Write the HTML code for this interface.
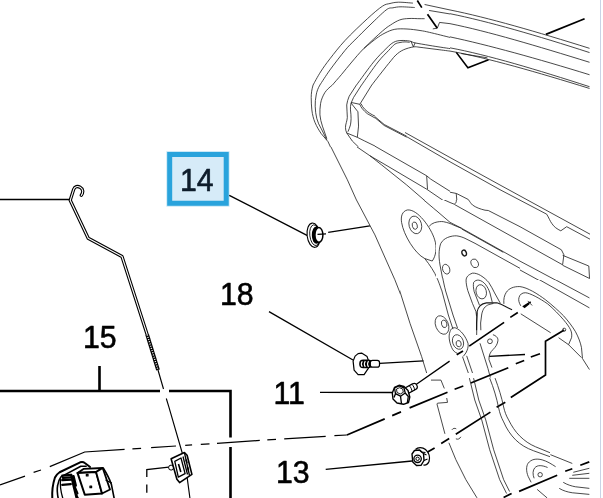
<!DOCTYPE html>
<html><head><meta charset="utf-8"><title>Diagram</title>
<style>
html,body{margin:0;padding:0;background:#fff;overflow:hidden}
svg{display:block}
svg *{vector-effect:non-scaling-stroke}
.t{fill:none;stroke:#1a1a1a;stroke-width:.8}
.m{fill:none;stroke:#000;stroke-width:1.3}
.k{fill:none;stroke:#000;stroke-width:1.7}
.b{fill:none;stroke:#000;stroke-width:2.6}
.w{fill:#fff;stroke:#000;stroke-width:1}
text{font-family:"Liberation Sans",Arial,sans-serif;font-size:31.5px;fill:#000;stroke:#000;stroke-width:.6px;stroke-linejoin:round}
</style></head><body>
<svg width="603" height="498" viewBox="0 0 603 498">
<defs>
<clipPath id="c1"><path d="M300,0 H603 V100 H375 V85 H300 Z"/></clipPath>
<clipPath id="c3b"><rect x="300" y="85" width="75" height="62"/></clipPath>
<clipPath id="c3"><path d="M375,100 H450 V200 H300 V147 H375 Z"/></clipPath>
<clipPath id="c5"><path d="M350,200 H436 V278 H480 V290 H400 V324 H350 Z"/></clipPath>
<clipPath id="c6"><rect x="520" y="200" width="83" height="80"/></clipPath>
<clipPath id="c4"><rect x="450" y="100" width="153" height="100"/></clipPath>
<clipPath id="c12"><rect x="436" y="200" width="84" height="78"/></clipPath>
<clipPath id="c8"><rect x="400" y="290" width="80" height="88"/></clipPath>
<clipPath id="c11"><rect x="480" y="280" width="123" height="98"/></clipPath>
</defs>
<rect width="603" height="498" fill="#fff"/>
<line x1="600.5" y1="0" x2="600.5" y2="498" stroke="#c9d3e6" stroke-width="1"/>

<!-- LABELS -->
<rect x="166.400" y="151.200" width="63.100" height="55.400" fill="#29a3dc" opacity=".3"/>
<rect x="169.700" y="154.500" width="56.500" height="48.800" fill="#d6ebf8" stroke="#29a3dc" stroke-width="5"/>
<g id="labels" style="filter:brightness(1)">
<text transform="translate(180,191) scale(0.96,1.012)" style="fill:#0e1c2b;stroke:#0e1c2b">14</text>
<text transform="translate(220,305) scale(0.96,1.012)">18</text>
<text transform="translate(83,348.200) scale(0.96,1.012)">15</text>
<text transform="translate(273.500,404.300) scale(0.96,1.012)">11</text>
<text transform="translate(276,483.200) scale(0.96,1.012)">13</text>
</g>

<!-- BOX 15 -->
<path class="b" d="M0,391 H160 M169,391 H230.500 V437.500 M230.500,447 V498 M99.500,366 V391"/>

<!-- LEFT HORIZONTAL + ROD -->
<path class="m" d="M0,199.500 H70"/>
<g id="rod">
<path d="M81.300,195.300 C83.500,192.500 83.200,189 80.100,187.300 C77.500,185.800 74.800,186.500 73.700,189.300 L70.200,200.300 L88.200,238.300 L122,256.500 L147.200,334.700" fill="none" stroke="#000" stroke-width="3.300" stroke-linejoin="round" stroke-linecap="round"/>
<path d="M81.300,195.300 C83.500,192.500 83.200,189 80.100,187.300 C77.500,185.800 74.800,186.500 73.700,189.300 L70.200,200.300 L88.200,238.300 L122,256.500 L147.200,334.700" fill="none" stroke="#fff" stroke-width="1.100" stroke-linejoin="round" stroke-linecap="round"/>
<path d="M147.200,334.700 L158,370" stroke="#000" stroke-width="3.800" fill="none"/>
<path d="M147.200,334.700 L158,370" stroke="#fff" stroke-width="1.400" fill="none" stroke-dasharray="1 1.300"/>
<path class="m" style="stroke-width:1.150" d="M158,370 L163.500,389 M166.300,398.500 L168.700,406.400 L182.400,453.500 M187.100,477.100 L189.900,498"/>
</g>

<!-- LEADERS -->
<path class="m" d="M229.300,195.300 L307.500,235.600 M328.200,232.400 L369.900,225.800"/>
<path class="m" d="M269,311.600 L353,360 M379.700,363.400 L423.500,360.800"/>
<path class="m" d="M320,392.300 L393.400,392.500 M415,385.300 L449.600,361.100"/>
<path class="m" d="M325.700,469.400 L412,461"/>
<path class="m" d="M489.200,356.300 L525,354.500"/>

<!-- DASHED THICK LINES -->
<path class="m" style="stroke-width:1.250" d="M0,484.900 L25,476.200 M33.600,472.400 L41,470 M49.800,466.700 L84.700,452 L124.600,449.300 M132.400,448.900 L141.100,448.400 M151.100,447.700 L176,446 M185.200,445.300 L192.100,444.800 M200.800,444.300 L209.500,443.800 M217,443.300 L259.800,440.400 M267.300,439.900 L276,439.400 M284.200,438.900 L325.700,436.400 M334.400,435.700 L346.900,435"/>
<path class="k" d="M346.900,435 L384.700,418.900 M392.200,415.600 L401,411.900 M409.600,407.900 L447.500,392.200 M454.600,389.200 L463.300,386 M470.800,383 L508.300,367.800 M515.800,363.700 L524.200,360.500 M530.800,357 L540,353.800"/>
<path class="k" d="M456.700,354.800 L463,351.100 M469.200,346.100 L504.100,322.400 M510.300,317.400 L517.800,312.500 M524,307.500 L529,303.500"/>
<path class="k" d="M427.600,452.100 L434.600,447.900 M441.200,443.500 L449.200,438.500 M455.800,434.200 L490.400,412.100 M496.600,407.200 L505.300,402.200 M510.800,397.500 L545.500,375 L545.500,341.300 L564.200,330"/>
<path class="k" d="M545.900,34.400 L584.600,18.700"/>
<path class="k" d="M417.300,0.500 L421.800,7.600 M427.500,14.200 L437.300,28.200"/>
<path class="k" style="stroke-width:1.500" d="M456.200,52.300 L467.900,67.800 L488.600,59.800"/>


<!-- G1 main curves (source coords) -->
<g class="t">
<path d="M313.1,85.0 C314.3,82.8 317.7,76.4 320.5,72.0 C323.3,67.6 325.9,64.0 330.0,58.7 C334.1,53.5 338.8,47.2 345.0,40.5 C351.2,33.8 361.2,24.4 367.4,18.7 C373.6,13.0 378.6,8.7 382.4,6.2 C386.2,3.7 387.3,4.2 390.0,3.5 C392.7,2.8 394.7,2.3 398.5,2.2 C402.3,2.1 410.5,3.0 412.9,3.1"/>
<path d="M319.9,85.0 C321.6,82.5 325.8,75.7 330.0,69.9 C334.2,64.1 340.9,55.4 345.0,50.4 C349.1,45.4 350.7,44.2 354.9,40.0 C359.1,35.8 364.8,30.0 370.0,25.0 C375.2,20.0 382.3,12.9 386.1,10.0 C389.9,7.1 390.5,8.3 393.0,7.8 C395.5,7.3 397.4,6.8 401.0,6.8 C404.6,6.8 412.4,7.4 414.7,7.5"/>
<path d="M332.4,85.0 C333.9,83.2 338.3,78.3 341.5,74.5 C344.7,70.7 348.1,66.3 351.8,62.0 C355.5,57.7 358.6,53.8 363.7,48.6 C368.8,43.5 377.9,35.0 382.4,31.1 C386.9,27.2 387.6,26.9 390.5,25.0 C393.4,23.1 396.7,21.0 399.8,19.9 C402.9,18.8 405.6,18.7 409.0,18.5 C412.4,18.3 417.4,18.7 420.0,18.7 C422.6,18.7 423.8,18.7 424.6,18.7"/>
<path d="M363.7,48.6 C365.8,46.9 372.6,41.2 376.1,38.6 C379.7,36.0 381.9,34.5 385.0,33.0 C388.1,31.4 391.1,30.0 394.8,29.3 C398.5,28.6 402.8,28.8 407.0,29.0 C411.2,29.2 416.2,29.9 420.0,30.5 C423.8,31.1 424.6,31.2 429.6,32.4 C434.6,33.5 446.6,36.6 450.0,37.4"/>
<path d="M356.5,85.0 C359.4,81.2 368.7,68.0 373.6,62.0 C378.5,56.0 382.7,52.0 386.0,48.7 C389.3,45.4 391.1,43.7 393.6,42.3 C396.1,40.9 398.3,40.7 401.0,40.5 C403.7,40.3 407.4,40.7 409.8,41.1 C412.2,41.5 411.7,42.2 415.1,42.9 C418.5,43.6 424.2,44.5 430.0,45.5 C435.8,46.5 446.7,48.1 450.0,48.6"/>
<path d="M361.6,85.0 C364.3,81.2 373.5,67.7 378.0,62.0 C382.5,56.3 385.7,53.6 388.5,50.6 C391.3,47.6 392.9,45.6 394.8,44.2 C396.7,42.9 398.3,42.9 400.0,42.5 C401.7,42.1 403.4,41.9 405.0,41.9 C406.6,41.9 408.8,42.3 409.6,42.4"/>
<path d="M371.8,85.0 C373.0,83.5 376.6,78.7 379.0,75.7 C381.4,72.7 383.9,69.4 386.0,66.8 C388.1,64.2 389.6,62.3 391.3,60.3 C393.0,58.3 394.0,56.6 396.0,54.9 C398.0,53.1 400.6,51.1 403.5,49.8 C406.4,48.5 410.8,47.3 413.5,46.9 C416.2,46.5 416.4,46.9 420.0,47.3 C423.6,47.7 430.0,48.6 435.0,49.2 C440.0,49.8 447.5,50.8 450.0,51.1"/>
</g>

<!-- DOOR: G1 top-left corner (zoom coords, offset 300,0) -->
<g clip-path="url(#c1)"><g transform="translate(300,0) scale(0.249170)" class="t">
<path d="M445,165 L455,188 L462,172"/>
<path d="M240,415 L205,410 M240,415 C243,430 250,445 262,455 C280,470 310,485 340,496"/>
<path d="M207,415 L215,440 L232,455 L235,498"/>
<path d="M500,18 L602,40 M518,42 L602,56 M560,90 L602,95 M551,113 L560,90 M551,113 L533,116"/>
</g></g>

<!-- G3b (offset 300,85 scale 8.03) -->
<g clip-path="url(#c3b)"><g transform="translate(300,85) scale(0.124585)" class="t">
<path d="M105,0 C95,35 90,65 90,100 C90,135 92,170 95,200 C100,240 108,270 120,300 C135,335 150,360 170,390 L225,455 L245,498"/>
<path d="M160,0 C145,25 135,50 130,80 C124,110 121,140 122,170 C123,205 127,240 135,270 C143,300 155,325 170,350 L215,440"/>
<path d="M260,0 C235,20 215,38 200,60 C183,88 170,118 165,150 C160,180 159,210 160,240 C163,272 170,300 180,330 L215,430"/>
<path d="M453,0 L395,90 C385,115 378,135 375,160 C373,195 382,225 380,260 C378,290 365,315 365,340 C365,355 368,370 375,385"/>
<path d="M494,0 L430,100 L410,145 C405,165 404,180 405,200 C406,225 412,245 410,270 C409,290 408,305 405,320 C400,340 392,358 385,375"/>
<path d="M410,145 L465,215 L470,330 L460,420 M410,140 L480,155"/>
<path d="M576,0 L480,155"/>
<path d="M480,155 C485,170 492,180 500,190 C512,205 525,218 540,230 L602,265 M490,150 C497,168 508,182 520,195 C545,220 570,235 602,250"/>
<path d="M375,385 L460,420 L520,450 L602,490 M375,385 L420,450 L470,498"/>
</g></g>

<!-- G2 top-right (offset 450,0) -->
<g transform="translate(450,0) scale(0.249170)" class="t">
<path d="M0,40 C150,70 350,128 560,194"/>
<path d="M0,55 C150,85 350,143 560,211"/>
<path d="M0,95 C150,125 350,185 560,250"/>
<path d="M0,148 C150,180 350,235 560,300"/>
<path d="M0,192 C150,220 350,280 560,348"/>
<path d="M0,205 C150,232 350,290 560,355"/>
<path d="M45,215 L150,232"/>
</g>

<!-- G3 (offset 300,100) -->
<g clip-path="url(#c3)"><g transform="translate(300,100) scale(0.249170)" class="t">
<path d="M110,160 L190,320 L270,498"/>
<path d="M185.800,130.400 L227.500,187.400 L280.900,223.900 L327.900,260.800 L428.200,341.100 L602,491"/>
<path d="M280.900,223.900 L361.200,270.900 L508.400,358 L602,421.800"/>
<path d="M230,150 L301,185.500 L508.400,304.200 L524.900,317.800 L602,366.400"/>
<path d="M508.400,304.200 L511.700,358"/>
<path d="M295,62 L337.900,98.300 L428.200,145.300 M295,66 L337.900,102.300 L428.200,149.300"/>
</g></g>

<!-- long upper-right lines U1..U4 (source coords) -->
<g class="t">
<path d="M405,132.500 L450,157.500 L500,185 L590,234.200"/>
<path d="M406.700,136.700 L450,161.800 L500,189.700 L546.700,214.200 C549,218 550,221 551.700,223.300 C554,227 557,229 560.800,230.800 L566.700,226.700 L590,239.200"/>
<path d="M456.300,193.400 L468.300,199.500 C470,202 471,203.500 472.500,205 C476,207.500 480,209 485,210.200 L488.300,210.500 L520,226.700 L561.400,249.800 L563.900,254.800 L562.600,264.800"/>
<path d="M454.500,204.500 L562.600,264.800"/>
</g>

<!-- G4 (offset 450,100) -->
<g clip-path="url(#c4)"><g transform="translate(450,100) scale(0.249170)" class="t">
<path d="M0,370 L25,375 L28,410 C28,418 15,420 0,420"/>
<path d="M0,480 L20,498"/>
</g></g>

<!-- G5 (offset 350,200) -->
<g clip-path="url(#c5)"><g transform="translate(350,200) scale(0.249170)" class="t">
<path d="M26,0 L43,32 L100,140 L180,320 L250,498"/>
<path d="M230,40 C210,45 203,65 207,90 C215,140 260,215 300,235 L330,245 C345,225 350,190 340,160 C325,110 270,35 230,40 Z"/>
<ellipse cx="262" cy="100" rx="25" ry="36" transform="rotate(-15 262 100)"/>
<ellipse cx="260" cy="103" rx="10" ry="15" transform="rotate(-15 260 103)"/>
<path d="M318,105 C330,92 345,87 365,87 C395,88 420,100 445,117 L602,215"/>
<path d="M602,237 L465,157 C445,146 425,142 405,146 C385,152 368,170 362,195 C356,225 362,270 380,350 C390,390 410,440 435,498"/>
<path d="M300,235 C320,260 340,290 350,315 C365,350 380,400 410,498"/>
<ellipse cx="457" cy="213" rx="9" ry="13" transform="rotate(-25 457 213)" style="stroke-width:1.2"/>
<ellipse cx="500" cy="255" rx="13" ry="20" transform="rotate(-25 500 255)"/>
<ellipse cx="385" cy="280" rx="14" ry="22" transform="rotate(-20 385 280)"/>
<path d="M345,498 C345,475 365,462 385,470 C400,478 405,490 405,498 M365,498 C365,485 380,480 390,490"/>
<path d="M296,0 L334,32 L401,90"/>
</g></g>
<!-- G13 rounded triangle (offset 455,265 scale 8.586) -->
<g transform="translate(455,265) scale(0.116470)" class="t">
<path d="M185,440 L180,400 L150,330 L110,220 C100,185 95,155 95,130 C97,105 110,85 150,70 C175,68 200,78 220,90 C250,108 272,128 290,150 C310,180 325,210 340,240 L390,330"/>
<path d="M210,345 L165,230 C158,200 155,170 160,150 C170,135 185,128 205,130 C228,135 245,148 260,165 C280,190 292,215 300,240 L320,320"/>
<ellipse cx="225" cy="230" rx="44" ry="62" transform="rotate(-15 225 230)"/>
<path d="M185,560 L185,498 L190,400 C195,378 203,362 215,350 C230,336 250,328 270,325 L360,325 L400,340 L490,385" style="stroke-width:1.100"/>
<path d="M222,560 L220,498 L230,420 C235,398 242,382 250,370 C262,355 275,346 290,340 L330,330"/>
</g>

<!-- G12 (offset 420,195 scale 6) -->
<g clip-path="url(#c12)"><g transform="translate(420,195) scale(0.166667)" class="t">
<path d="M218,20 L218,38 C216,48 212,52 205,55 L180,45 L140,27"/>
<path d="M0,10 L80,78 L180,164 L250,200 L500,340 L600,397 M250,204 L500,344"/>
<path d="M50,190 C60,178 75,168 90,165 C108,160 125,158 140,160 C165,165 185,172 200,180 L250,200"/>
<path d="M135,498 L120,420 C115,390 113,365 115,340 C117,318 120,302 125,290 C135,272 150,262 165,255 C185,247 205,244 220,245 C240,248 255,253 270,260 L330,290 L600,440"/>
<ellipse cx="265" cy="348" rx="13" ry="18" transform="rotate(-25 265 348)" style="stroke-width:1.400"/>
<ellipse cx="328" cy="410" rx="21" ry="27" transform="rotate(-25 328 410)"/>
<ellipse cx="157" cy="445" rx="21" ry="30" transform="rotate(-20 157 445)"/>
</g></g>

<!-- G6 (offset 453,200) -->
<g clip-path="url(#c6)"><g transform="translate(453,200) scale(0.249170)" class="t">
<path d="M440,222 L545,265 L548,315 L440,262"/>
<path d="M189,200 L269,245.500 L550,395"/>
<path d="M100,155 L200,210"/>
<path d="M189,237 L550,435"/>
<path d="M205,420 C203,395 210,370 225,355 C240,342 270,342 295,352 C340,372 390,410 420,440 L470,498"/>
<path d="M265,420 C262,400 265,380 280,372 C300,368 330,378 350,390 C385,415 420,450 450,498"/>
<path d="M295,405 L315,418"/>
</g></g>


<!-- FASTENER 14 -->
<g id="f14">
<ellipse cx="313.600" cy="235.200" rx="6.500" ry="12.200" transform="rotate(-7 313.600 235.200)" fill="#fff" stroke="#000" stroke-width="1.100"/>
<ellipse cx="314.800" cy="235.200" rx="5" ry="10.400" transform="rotate(-7 314.800 235.200)" fill="none" stroke="#000" stroke-width=".9"/>
<ellipse cx="316.600" cy="235" rx="4.800" ry="8.800" fill="#000"/>
<ellipse cx="318.900" cy="234.900" rx="4" ry="7.300" fill="#fff" stroke="#000" stroke-width="1.500"/>
<path class="m" d="M317.500,234.300 L326,233.900"/>
</g>

<!-- STUD 18 -->
<g id="f18">
<path d="M358.100,353.600 L361.600,353.100 L367.100,356.600 L368.300,360.100 L368.300,368.500 L367.600,369.300 L364.100,374.600 L358.100,374.600 L354.100,370.100 L353.100,361.100 L355.100,356.100 Z" fill="#fff" stroke="#000" stroke-width="1.200" stroke-linejoin="round"/>
<rect x="359.200" y="359.500" width="13" height="8.700" rx="4" fill="#000"/>
<path d="M362.300,361.200 C361,363 361,365 362.300,366.800 M365.300,361 C364,363 364,365 365.300,367 M368.500,361 C367.200,363 367.200,365 368.500,367" fill="none" stroke="#fff" stroke-width="1.100"/>
<rect x="370.300" y="360.400" width="9.200" height="6.700" rx="2.200" fill="#fff" stroke="#000" stroke-width="1.200"/>
</g>

<!-- BOLT 11 -->
<g id="f11">
<path d="M405.500,391.300 L414,386.700" fill="none" stroke="#000" stroke-width="7.600" stroke-linecap="round"/>
<path d="M405.500,391.300 L414,386.700" fill="none" stroke="#fff" stroke-width="5.200" stroke-linecap="round"/>
<path d="M409.300,385.800 C411,387.500 412,389.500 412,392 M412,384.500 C413.600,386 414.500,388 414.600,390.300" fill="none" stroke="#000" stroke-width="1"/>
<path d="M392.300,393 L394.500,387.500 L399,385.300 L404,386.500 L408,390.500 L409.800,397 L408.500,402.500 L403.500,404.300 L397,403 L393,399 Z" fill="#fff" stroke="#000" stroke-width="1.400" stroke-linejoin="round"/>
<path d="M394.500,388 L399,385.800 L404,387.800 L405.200,393 L400.500,396.200 L395.500,393.700 Z" fill="#fff" stroke="#000" stroke-width="1.300" stroke-linejoin="round"/>
<path d="M396.500,389 L399.500,387.700 L402.700,389 L403.300,392.300 L400.300,394 L397,392.500 Z" fill="none" stroke="#000" stroke-width=".9" stroke-linejoin="round"/>
<path d="M400.500,396.200 L401.500,403.800 M405.200,393 L408.300,396.500 L407.300,402.800 M395.500,393.700 L394,397.500" fill="none" stroke="#000" stroke-width="1.300" stroke-linejoin="round"/>
</g>

<!-- NUT 13 -->
<g id="f13">
<path d="M415.500,449.500 C418,446.800 422.500,447 425.500,449.500 C429,452.500 430.300,457.500 429,461.500 C428,464 426,465.300 423.500,465" fill="#fff" stroke="#000" stroke-width="1.300"/>
<path d="M412,454 L414.500,450.500 L419.500,450 L423.500,453.500 L424,460.500 L421,465.300 L416.500,465.500 L412.800,462 Z" fill="#fff" stroke="#000" stroke-width="1.400" stroke-linejoin="round"/>
<path d="M419.500,450 L421.500,452 L425.500,452.500 M424,460.500 L427.500,459 M423.500,453.500 L426.500,455" fill="none" stroke="#000" stroke-width="1.100"/>
<circle cx="417.600" cy="458.800" r="3.700" fill="#fff" stroke="#000" stroke-width="1.300"/>
<circle cx="417.600" cy="458.800" r="1.700" fill="#fff" stroke="#000" stroke-width="1"/>
</g>

<!-- CLIP on rod -->
<g id="clip">
<circle cx="171.100" cy="467.600" r="2.500" fill="#fff" stroke="#000" stroke-width="1"/>
<path d="M171.100,458.700 L184.400,452.500 L187.100,455.300 L191.900,474.400 L179.600,482.600 L176.900,479.200 Z" fill="#fff" stroke="#000" stroke-width="1.600" stroke-linejoin="round"/>
<path d="M174.800,461.400 L181,458 L185.100,473.700 L178.300,477.100 Z" fill="#fff" stroke="#000" stroke-width="1.300" stroke-linejoin="round"/>
<path d="M184.400,452.500 L189.500,475.500 M183,456.500 L187.500,474.500" fill="none" stroke="#000" stroke-width="1.300"/>
<path d="M178.500,464 L180.800,472 M186,459.500 L187,463 M187.500,467 L188.500,470.500" fill="none" stroke="#000" stroke-width="1.600"/>
</g>


<!-- G8 (offset 400,290 scale 6) -->
<g clip-path="url(#c8)"><g transform="translate(400,290) scale(0.166667)" class="t">
<path d="M-75,-200 C-40,-120 -20,-60 0,10 L60,200 L130,400 L160,498"/>
<ellipse cx="252" cy="210" rx="38" ry="58" transform="rotate(-22 252 210)"/>
<ellipse cx="265" cy="203" rx="16" ry="23" transform="rotate(-15 265 203)"/>
<path d="M300,250 C305,232 318,222 335,228 C365,240 395,280 408,320 C412,340 405,360 395,378 L380,398"/>
<path d="M300,250 C290,275 295,310 310,345 C318,365 330,375 345,380"/>
<ellipse cx="348" cy="312" rx="32" ry="45" transform="rotate(-20 348 312)"/>
<ellipse cx="352" cy="322" rx="15" ry="19" transform="rotate(-15 352 322)"/>
<path d="M250,0 L290,150 L318,235"/>
<path d="M272,0 L318,150 L345,228"/>
<path d="M375,400 L410,498 M400,395 L435,498"/>
<path d="M462,135 L460,270"/>
<path d="M492,130 C486,160 484,185 488,210 L500,242"/>
<circle cx="540" cy="305" r="14"/>
<path d="M560,265 C580,270 592,285 590,300 C588,320 578,335 560,352 C545,365 538,380 540,400 L555,470"/>
<path d="M480,320 L530,470 L540,498"/>
<path d="M498,330 L520,400"/>
</g></g>

<!-- G11 (offset 480,280 scale 5.025) -->
<g clip-path="url(#c11)"><g transform="translate(480,280) scale(0.199000)" class="t">
<path d="M120,120 C118,95 122,78 132,62 C145,42 170,32 200,33 C240,38 290,70 330,100 C365,128 395,155 420,180 C445,208 465,235 480,260 C495,288 505,315 510,340 L515,395 L550,450"/>
<path d="M205,130 C196,115 192,100 196,88 C200,72 212,64 228,64 C250,65 300,92 340,120 C370,145 398,175 420,200 C435,218 448,235 455,250 C462,265 462,278 460,290 L445,325"/>
<path d="M205,170 L355,265"/>
<path d="M292,-5 L550,140 M372,-5 L550,90"/>
<path d="M395,290 L445,325 L510,390"/>
<path d="M240,105 L262,128"/>
<circle cx="423" cy="250" r="8"/>
<circle cx="50" cy="308" r="12"/>
<path d="M65,275 C82,280 92,292 90,305 C88,322 80,335 65,350 C52,362 44,378 45,400 L60,440"/>
<path d="M0,318 L40,445 L52,490"/>
</g></g>

<!-- G9 (offset 430,400 scale 5.025) -->
<g transform="translate(430,400) scale(0.199000)" class="t">
<path d="M5,-100 L55,-100 L72,-58 M84,-10 L88,12 L38,16 L35,20 L75,170 M95,215 L130,300 L180,400 L235,490 L240,498"/>
<path d="M198,-110 L225,0 L260,100 L300,250 L350,400 L385,470"/>
<path d="M219,-110 L245,0 L280,100 L320,250 L370,400 L400,460"/>
<path d="M300,-110 C320,-60 335,-10 345,40 C350,65 358,88 370,110 C385,145 405,175 430,200 C455,225 485,242 520,255 L603,285"/>
<path d="M327,-110 C345,-60 360,-15 370,35 C375,58 383,80 395,100 C410,130 428,158 450,180 C475,205 500,222 530,235 L603,265"/>
<path d="M110,150 C115,142 125,140 132,145 M130,195 C140,200 150,195 155,185"/>
</g>

<!-- G10 (offset 503,398 scale 4.98) -->
<g transform="translate(503,398) scale(0.200800)" class="t">
<path d="M232,293 L340,330 M232,270 L300,345" style="display:none"/>
<path d="M235,285 L345,325 M235,265 L300,345" style="display:none"/>
<path d="M236,282 L345,326"/>
<path d="M236,262 L300,290 L345,308" style="display:none"/>
<path d="M125,390 C115,365 115,340 125,325 C140,305 165,300 195,308 C220,315 240,328 262,342 M125,390 L140,420"/>
<path d="M155,400 C147,380 148,360 158,348 C172,332 195,335 222,346"/>
<circle cx="185" cy="382" r="11"/>
<path d="M350,370 L430,350 M345,385 L430,375 M330,400 L430,400 M300,420 C320,432 340,438 360,442 L430,450 M280,450 C300,462 320,468 345,472 L430,480 M170,455 L220,498"/>
</g>

<!-- thick dashes bottom right -->
<path class="k" d="M503.600,497.500 L511.600,493.500 M519.100,491.400 L557.200,475.300 M565.200,471.300 L572.300,468.700 M580.300,465.300 L589.300,461.900"/>
<path class="k" d="M522.800,306.900 L530.700,301.900"/>


<!-- LATCH (offset 45,455 scale 7.54) -->
<g transform="translate(45,455) scale(0.132670)" fill="none" stroke="#000" stroke-linejoin="round" stroke-linecap="round">
<path d="M55,330 C52,280 55,230 75,170 C85,150 95,140 110,130 L265,55 C280,50 290,52 300,60 L340,90" stroke-width="2"/>
<path d="M100,330 C92,290 90,255 95,230 C100,200 108,180 120,165 L270,85 L310,85" stroke-width="1.600"/>
<path d="M118,182 C112,220 120,280 135,330" stroke-width="1.300"/>
<path d="M130,155 L195,150 M130,190 L200,185 M130,225 L195,220" stroke-width="2.200"/>
<path d="M135,172 L195,168" stroke-width="2.200"/>
<path d="M198,150 L215,230 L240,330 M215,160 L232,230" stroke-width="2.400"/>
<path d="M245,135 L290,105 L435,98 L385,128 Z" fill="#fff" stroke-width="1.800"/>
<path d="M245,135 L385,128 L430,290 L300,300 Z" fill="#fff" stroke-width="2"/>
<path d="M385,128 L435,98 L490,260 L430,290 Z" fill="#fff" stroke-width="1.800"/>
<path d="M440,100 C465,140 488,185 500,220 L522,330" stroke-width="1.600"/>
<path d="M460,190 L500,210" stroke-width="1.300"/>
<rect x="312" y="146" width="12" height="12" stroke-width="1.300"/>
<rect x="339" y="234" width="12" height="12" stroke-width="1.300"/>
<path d="M225,240 L245,290 M235,300 L250,330" stroke-width="2"/>
</g>

<!-- dashed thin bracket near clip -->
<path class="m" d="M168.700,467.200 L146.800,469.600 L146.800,477.100 M146.800,484.600 L146.800,492.800"/>

</svg>
</body></html>
